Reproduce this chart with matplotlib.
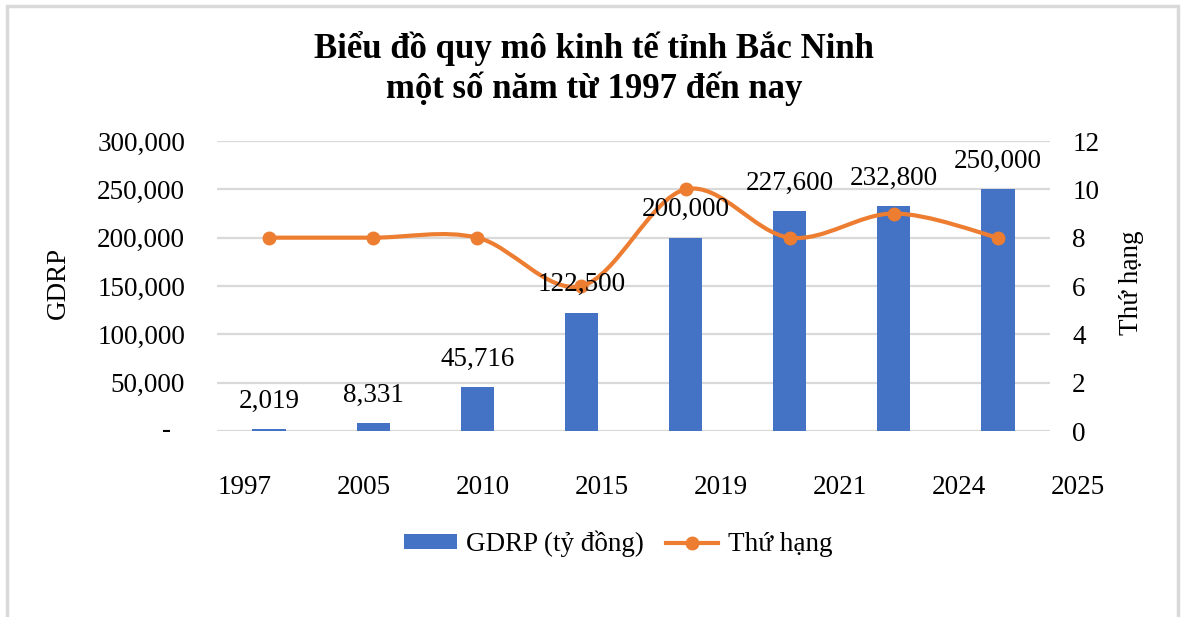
import matplotlib
matplotlib.use("Agg")
import matplotlib.pyplot as plt
from matplotlib.path import Path
from matplotlib.patches import PathPatch, Rectangle
from matplotlib.lines import Line2D
from matplotlib.ticker import FuncFormatter, MultipleLocator
import numpy as np

# ---- data ----
categories = ["1997", "2005", "2010", "2015", "2019", "2021", "2024", "2025"]
gdrp = [2019, 8331, 45716, 122500, 200000, 227600, 232800, 250000]
rank = [8, 8, 8, 6, 10, 8, 9, 8]
axis_year_labels = ["1997", "2005", "2010", "2015", "2019", "2021", "2024", "2025"]

title_line1 = "Biểu đồ quy mô kinh tế tỉnh Bắc Ninh"
title_line2 = "một số năm từ 1997 đến nay"

BLUE = "#4472C4"
ORANGE = "#ED7D31"
GRID = "#D9D9D9"
FONT = "Liberation Serif"
FS = 19.5

plt.rcParams["font.family"] = [FONT, "DejaVu Serif"]

W, H = 1181, 617
fig = plt.figure(figsize=(W / 100, H / 100), dpi=100)

def fx(px):
    return px / W

def fy(py):
    return 1 - py / H

# outer frame
fig.patches.append(Rectangle((fx(7), fy(640)), fx(1178) - fx(7), fy(6) - fy(640),
                             transform=fig.transFigure, fill=False,
                             edgecolor=GRID, linewidth=2.5))

ax = fig.add_axes([fx(217), fy(431), fx(1050) - fx(217), fy(141) - fy(431)])
ax2 = ax.twinx()

x = np.arange(len(categories))
ax.bar(x, gdrp, width=0.32, color=BLUE, zorder=2, label="GDRP (tỷ đồng)")
ax.set_xlim(-0.5, len(categories) - 0.5)
ax.set_ylim(0, 300000)
ax.yaxis.set_major_locator(MultipleLocator(50000))
ax.yaxis.set_major_formatter(FuncFormatter(lambda v, p: "" if v == 0 else f"{int(v):,}"))
ax.grid(axis="y", color=GRID, linewidth=1.6, zorder=0)
ax.set_axisbelow(True)
ax.set_xticks([])
for s in ax.spines.values():
    s.set_visible(False)
for s in ax2.spines.values():
    s.set_visible(False)
ax.tick_params(axis="y", length=0, pad=23, labelsize=FS)
ax.text(-0.061, 0, "-", transform=ax.transAxes, ha="center", va="center", fontsize=FS)

# x axis labels (offset category labels)
for k, lab in enumerate(axis_year_labels):
    ax.text((245 - 217) / 833 + k / 7, (431 - 487) / 290, lab, transform=ax.transAxes,
            ha="center", va="center", fontsize=FS, clip_on=False)

# secondary axis: smooth line (Catmull-Rom -> cubic Bezier)
ax2.set_ylim(0, 12)
ax2.yaxis.set_major_locator(MultipleLocator(2))
ax2.tick_params(axis="y", length=0, pad=16, labelsize=FS)
pts = np.column_stack([x, rank]).astype(float)
verts = [tuple(pts[0])]
codes = [Path.MOVETO]
n = len(pts)
for i in range(n - 1):
    p0 = pts[max(i - 1, 0)]
    p1 = pts[i]
    p2 = pts[i + 1]
    p3 = pts[min(i + 2, n - 1)]
    c1 = p1 + (p2 - p0) / 6.0
    c2 = p2 - (p3 - p1) / 6.0
    verts += [tuple(c1), tuple(c2), tuple(p2)]
    codes += [Path.CURVE4] * 3
ax2.add_patch(PathPatch(Path(verts, codes), facecolor="none", edgecolor=ORANGE,
                        linewidth=3, zorder=3))
ax2.plot(x, rank, linestyle="none", marker="o", markersize=9, color=ORANGE, zorder=4)

# data labels on top
for xi, v in zip(x, gdrp):
    ax2.annotate(f"{v:,}", xy=(xi, v), xycoords=ax.transData, xytext=(0, 20),
                 textcoords="offset points", ha="center", va="center", fontsize=FS,
                 zorder=5)

# axis titles
fig.text(fx(58), fy(283), "GDRP", rotation=90, ha="center", va="center", fontsize=FS)
fig.text(fx(1131), fy(283), "Thứ hạng", rotation=90, ha="center", va="center", fontsize=FS)

# title
fig.text(fx(594), fy(48), title_line1, ha="center", va="center", fontsize=25, fontweight="bold")
fig.text(fx(594), fy(89), title_line2, ha="center", va="center", fontsize=25, fontweight="bold")

# legend
handles = [
    Rectangle((0, 0), 1, 1, facecolor=BLUE, edgecolor="none"),
    Line2D([0], [0], color=ORANGE, linewidth=3, marker="o", markersize=9),
]
fig.legend(handles, ["GDRP (tỷ đồng)", "Thứ hạng"], loc="center", ncol=2,
           bbox_to_anchor=(fx(618), fy(544)), frameon=False, fontsize=FS,
           handlelength=1.95, handleheight=0.5, handletextpad=0.35, columnspacing=0.8)

fig.savefig("out.png", dpi=100)
